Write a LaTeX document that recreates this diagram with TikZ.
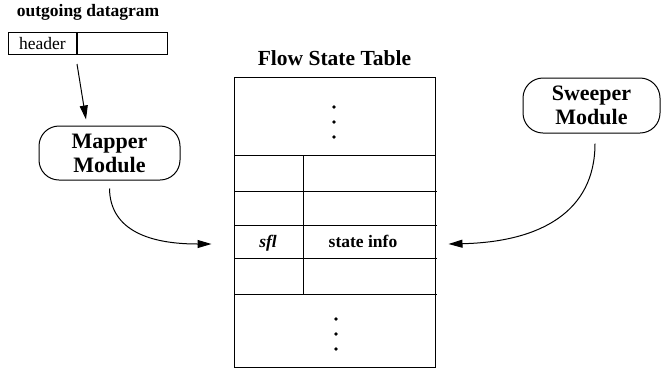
\documentclass[tikz,border=0pt]{standalone}
\usepackage{fontspec}
\setmainfont{Liberation Serif}
\usetikzlibrary{arrows.meta}
\begin{document}
\begin{tikzpicture}[x=1pt,y=-1pt,line width=1pt,
  module/.style={draw,rounded corners=20pt,align=center,inner sep=0pt,
    font=\fontsize{22}{24}\selectfont\bfseries},
  arr/.style={-{Triangle[length=14pt,width=8pt]}},
  big/.style={font=\fontsize{21.5}{24}\selectfont\bfseries},
  small/.style={font=\fontsize{17.5}{20}\selectfont},
  dot/.style={circle,fill,inner sep=0pt,minimum size=3.8pt}]
\useasboundingbox (0,0) rectangle (661,368);
% datagram
\node[small,anchor=base west,font=\fontsize{17.5}{20}\selectfont\bfseries] (dg) at (13,16) {outgoing datagram};
\node[small,draw,anchor=north west,minimum width=68pt,minimum height=22pt,inner sep=0pt] (hdr) at (8,32) {header};
\node[draw,anchor=west,minimum width=90pt,minimum height=22pt,inner sep=0pt] (pay) at (hdr.east) {};
% modules
\node[module,minimum width=141pt,minimum height=54pt] (mapper) at (109.5,153) {Mapper\\Module};
\node[module,minimum width=137pt,minimum height=55pt] (sweeper) at (591.5,105.5) {Sweeper\\Module};
% table
\node[big,anchor=base] (title) at (334.5,65) {Flow State Table};
\node[draw,anchor=north west,minimum width=201pt,minimum height=290pt,inner sep=0pt] (tbl) at (234,77) {};
\draw (234,155) -- (436,155);
\draw (234,191) -- (437,191);
\draw (234,225) -- (437,225);
\draw (234,258) -- (437,258);
\draw (234,294) -- (437,294);
\draw (303,155) -- (303,294);
\node[dot] (d1) at (334,107) {};
\node[dot] (d2) at (334,122) {};
\node[dot] (d3) at (334,137) {};
\node[dot] (d4) at (336,319) {};
\node[dot] (d5) at (336,334) {};
\node[dot] (d6) at (336,349) {};
\node[small,anchor=base,font=\fontsize{17.5}{20}\selectfont\bfseries\itshape] (sfl) at (268,247) {sfl};
\node[small,anchor=base,font=\fontsize{17.5}{20}\selectfont\bfseries] (info) at (363,247) {state info};
\node[minimum width=201pt,minimum height=33pt,inner sep=0pt] (row) at (334.5,244) {};
% connectors
\draw[arr] ([yshift=-9pt]hdr.south east) -- ([xshift=-23.5pt,yshift=6pt]mapper.north);
\draw[arr] ([yshift=-8pt]mapper.south) .. controls (110,226) and (142,244) .. ([xshift=-22pt]row.west);
\draw[arr] ([xshift=3.5pt,yshift=-10pt]sweeper.south) .. controls (595,212) and (540,242) .. ([xshift=13pt]row.east);
\end{tikzpicture}
\end{document}
